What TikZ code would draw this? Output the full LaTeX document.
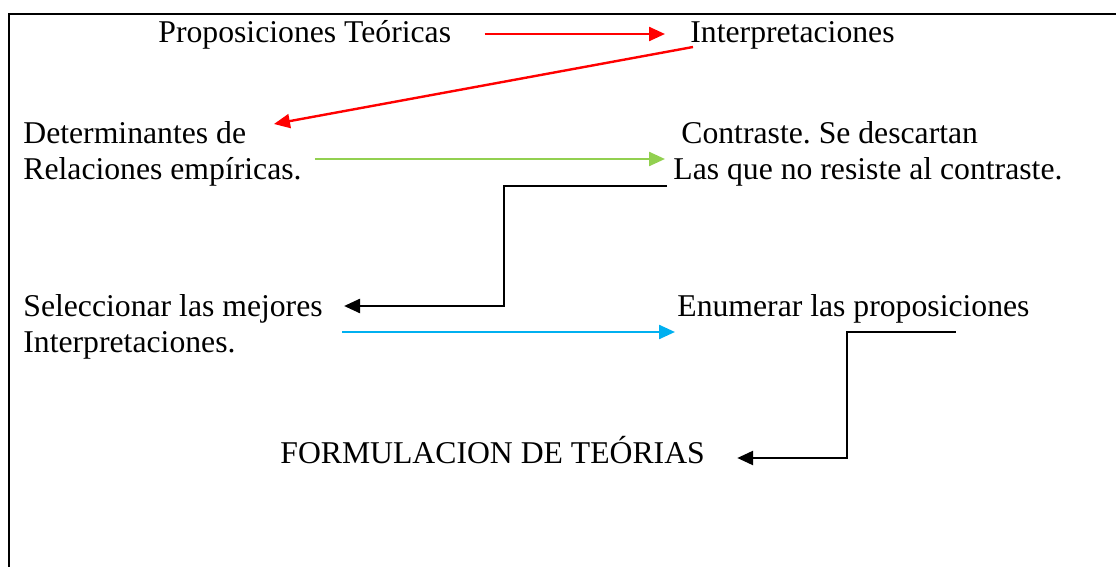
\documentclass[tikz,border=0pt]{standalone}
\usepackage{fontspec}
\setmainfont{Liberation Serif}
\usepackage{tikz}
\usetikzlibrary{arrows.meta}
\usetikzlibrary{calc}
\definecolor{myred}{RGB}{255,0,0}
\definecolor{mygreen}{RGB}{146,208,80}
\definecolor{myblue}{RGB}{0,176,240}
\newcommand\mypaso[4][]{%
  \node[paso,#1] (#2) at (#3) {#4};
}
\frenchspacing

\begin{document}
\begin{tikzpicture}[x=0.5pt, y=-0.5pt, >={Triangle[length=8pt,width=7pt]},
paso/.style={
  anchor=base west,
  inner sep=0pt,
  align=left,
  font=\fontsize{15.85pt}{18.25pt}\selectfont},
flecha/.style={->, line width=1.2pt},
codo/.style={->, line width=1.3pt, black}
]
\useasboundingbox (0,0) rectangle (1116,567);
\clip (0,0) rectangle (1116,567);
\draw[line width=1.4pt] (9,14) rectangle (1130,580); % marco

\mypaso{prop}{158,43}{Proposiciones Teóricas}
\mypaso{interp}{690,43}{Interpretaciones}
\mypaso{det}{23,180}{Determinantes de\\Relaciones empíricas.} % base = ultima linea
\mypaso{con}{673,180}{\hspace*{4pt}Contraste. Se descartan\\Las que no resiste al contraste.}
\mypaso{sel}{23,353}{Seleccionar las mejores\\Interpretaciones.}
\mypaso{enum}{677,317}{Enumerar las proposiciones}
\mypaso{form}{280,464}{FORMULACION DE TEÓRIAS}

\draw[flecha, myred] ($(prop.base east)+(33,-9)$) -- ($(interp.base west)+(-25,-9)$);
\draw[flecha, myred] ($(interp.base west)+(3,4)$) -- ($(det.base east)+(-28,-56)$);
\draw[flecha, mygreen] ($(det.base east)+(13,-21)$) -- ($(con.base west)+(-8,-21)$);
\draw[codo] ($(con.base west)+(-6,6)$) -- ++(-163,0) |- ($(sel.base east)+(21,-47)$);
\draw[flecha, myblue] ($(sel.base east)+(19,-21)$) -- ($(enum.base west)+(-2,15)$);
\draw[codo] ($(enum.base east)+(-74,15)$) -- ++(-109,0) |- ($(form.base east)+(32,-6)$);

\end{tikzpicture}
\end{document}
